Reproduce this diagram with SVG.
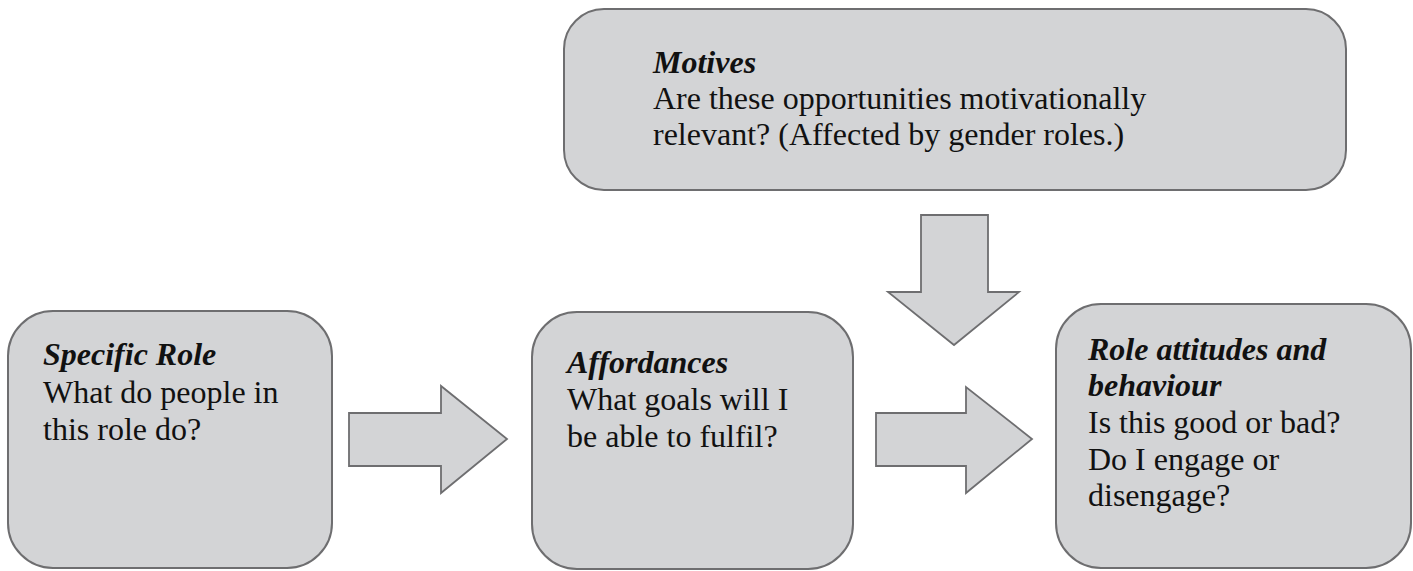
<svg xmlns="http://www.w3.org/2000/svg" width="1413" height="571" viewBox="0 0 1413 571">
  <style>
    .box { fill: #d3d4d6; stroke: #6e6e70; stroke-width: 2; }
    .arrow { fill: #d3d4d6; stroke: #6e6e70; stroke-width: 1.8; stroke-linejoin: miter; }
    text { font-family: "Liberation Serif", "Times New Roman", serif; font-size: 32px; fill: #111; }
    .title { font-weight: bold; font-style: italic; }
  </style>
  <rect width="1413" height="571" fill="#ffffff"/>

  <!-- connectors: block arrows -->
  <g id="connectors">
    <polygon class="arrow" points="349,413 441,413 441,386 507,439 441,493 441,466 349,466"/>
    <polygon class="arrow" points="876,413 966,413 966,387 1032,439 966,493 966,466 876,466"/>
    <polygon class="arrow" points="921,215 988,215 988,292 1019,292 954,345 888,292 921,292"/>
  </g>

  <g id="motives">
    <rect class="box" x="564" y="9" width="782" height="181" rx="40" ry="40"/>
    <text x="653" y="73" class="title">Motives</text>
    <text x="653" y="109">Are these opportunities motivationally</text>
    <text x="653" y="145">relevant? (Affected by gender roles.)</text>
  </g>

  <g id="specific-role">
    <rect class="box" x="8" y="311" width="324" height="257" rx="45" ry="45"/>
    <text x="43" y="365" class="title">Specific Role</text>
    <text x="43" y="403">What do people in</text>
    <text x="43" y="440">this role do?</text>
  </g>

  <g id="affordances">
    <rect class="box" x="532" y="312" width="321" height="257" rx="45" ry="45"/>
    <text x="567" y="373" class="title">Affordances</text>
    <text x="567" y="410">What goals will I</text>
    <text x="567" y="447">be able to fulfil?</text>
  </g>

  <g id="role-attitudes">
    <rect class="box" x="1056" y="304" width="355" height="264" rx="45" ry="45"/>
    <text x="1088" y="360" class="title">Role attitudes and</text>
    <text x="1088" y="396" class="title">behaviour</text>
    <text x="1088" y="433">Is this good or bad?</text>
    <text x="1088" y="470">Do I engage or</text>
    <text x="1088" y="506">disengage?</text>
  </g>
</svg>
